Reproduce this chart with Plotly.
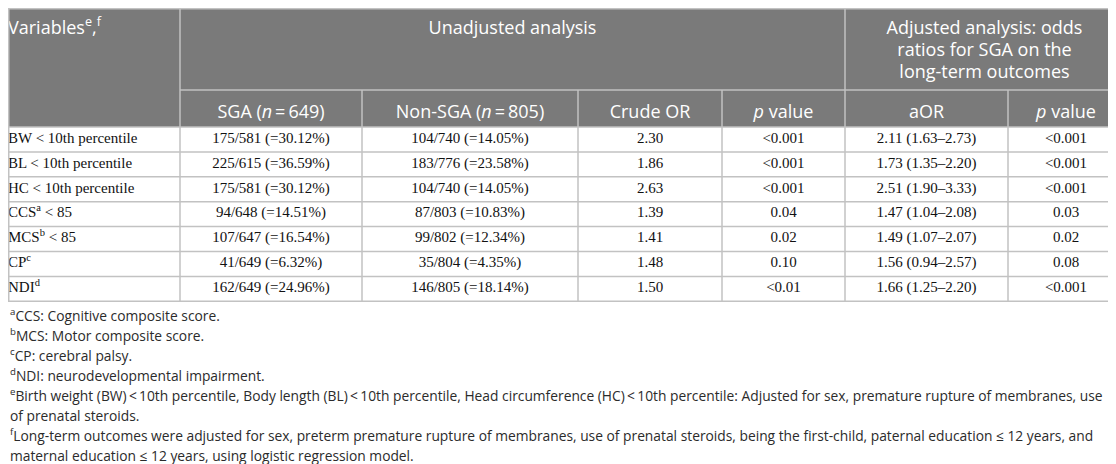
import plotly.graph_objects as go

# table body, one list per column
variables = [
    "BW &lt; 10th percentile",
    "BL &lt; 10th percentile",
    "HC &lt; 10th percentile",
    "CCS<sup>a</sup> &lt; 85",
    "MCS<sup>b</sup> &lt; 85",
    "CP<sup>c</sup>",
    "NDI<sup>d</sup>",
]
sga = ["175/581 (=30.12%)", "225/615 (=36.59%)", "175/581 (=30.12%)", "94/648 (=14.51%)",
       "107/647 (=16.54%)", "41/649 (=6.32%)", "162/649 (=24.96%)"]
non_sga = ["104/740 (=14.05%)", "183/776 (=23.58%)", "104/740 (=14.05%)", "87/803 (=10.83%)",
           "99/802 (=12.34%)", "35/804 (=4.35%)", "146/805 (=18.14%)"]
crude_or = ["2.30", "1.86", "2.63", "1.39", "1.41", "1.48", "1.50"]
crude_p = ["&lt;0.001", "&lt;0.001", "&lt;0.001", "0.04", "0.02", "0.10", "&lt;0.01"]
adj_or = ["2.11 (1.63–2.73)", "1.73 (1.35–2.20)", "2.51 (1.90–3.33)", "1.47 (1.04–2.08)",
          "1.49 (1.07–2.07)", "1.56 (0.94–2.57)", "1.66 (1.25–2.20)"]
adj_p = ["&lt;0.001", "&lt;0.001", "&lt;0.001", "0.03", "0.02", "0.08", "&lt;0.001"]

var_header = "Variables<sup>e</sup>,<sup>f</sup>"
unadj_header = "Unadjusted analysis"
adj_header = ["Adjusted analysis: odds", "ratios for SGA on the", "long-term outcomes"]
sub_headers = ["SGA (<i>n</i>\u2009=\u2009649)", "Non-SGA (<i>n</i>\u2009=\u2009805)", "Crude OR",
               "<i>p</i> value", "aOR", "<i>p</i> value"]

footnotes = [
    "<sup>a</sup>CCS: Cognitive composite score.",
    "<sup>b</sup>MCS: Motor composite score.",
    "<sup>c</sup>CP: cerebral palsy.",
    "<sup>d</sup>NDI: neurodevelopmental impairment.",
    "<sup>e</sup>Birth weight (BW)\u2009&lt;\u200910th percentile, Body length (BL)\u2009&lt;\u200910th percentile, "
    "Head circumference (HC)\u2009&lt;\u200910th percentile: Adjusted for sex, premature rupture of membranes, use",
    "of prenatal steroids.",
    "<sup>f</sup>Long-term outcomes were adjusted for sex, preterm premature rupture of membranes, "
    "use of prenatal steroids, being the first-child, paternal education ≤ 12 years, and",
    "maternal education ≤ 12 years, using logistic regression model.",
]

# layout of the grid (pixels, y grows downwards)
W, H = 1116, 464
HEAD_GRAY = "#7a7a7a"
GRID = "#c2c2c2"
col_widths = [172, 182, 216, 144, 123, 163, 116]
edges = [0]
for w in col_widths:
    edges.append(edges[-1] + w)
HEAD1_BOTTOM = 82
HEAD2_BOTTOM = 119
ROW_H = 24.9
n_rows = len(variables)
table_bottom = HEAD2_BOTTOM + ROW_H * n_rows
row_mid = [HEAD2_BOTTOM + ROW_H * (i + 0.5) - 0.5 for i in range(n_rows)]
centers = [(edges[j] + edges[j + 1]) / 2 for j in range(len(col_widths))]

head_font = dict(family="Open Sans", size=18, color="white")
body_font = dict(family="Liberation Serif", size=15, color="#111111")

fig = go.Figure()

# body columns (first column left aligned, text offset comes from the textposition)
columns = [variables, sga, non_sga, crude_or, crude_p, adj_or, adj_p]
for j, col in enumerate(columns):
    fig.add_trace(go.Scatter(
        x=[edges[0]] * n_rows if j == 0 else [centers[j]] * n_rows,
        y=row_mid,
        text=col,
        mode="text",
        textposition="middle right" if j == 0 else "middle center",
        textfont=body_font,
        cliponaxis=False,
        hoverinfo="skip",
        showlegend=False,
    ))

# sub header row
fig.add_trace(go.Scatter(
    x=centers[1:],
    y=[105] * len(sub_headers),
    text=sub_headers,
    mode="text",
    textposition="middle center",
    textfont=head_font,
    hoverinfo="skip",
    showlegend=False,
))

# top header row
fig.add_trace(go.Scatter(
    x=[edges[0], (edges[1] + edges[5]) / 2] + [(edges[5] + edges[7]) / 2] * len(adj_header),
    y=[21, 21] + [21 + 22 * k for k in range(len(adj_header))],
    text=[var_header, unadj_header] + adj_header,
    mode="text",
    textposition=["middle right"] + ["middle center"] * (1 + len(adj_header)),
    textfont=head_font,
    cliponaxis=False,
    hoverinfo="skip",
    showlegend=False,
))

# header background
fig.add_shape(type="rect", x0=edges[0], x1=edges[-1], y0=0, y1=HEAD2_BOTTOM,
              fillcolor=HEAD_GRAY, line_width=0, layer="below")

# grid lines
grid = dict(color=GRID, width=1.5)
fig.add_shape(type="rect", x0=edges[0] + 0.75, x1=edges[-1] - 0.75, y0=0.75, y1=table_bottom,
              line=grid)
for k in range(n_rows):
    y = HEAD2_BOTTOM + ROW_H * k
    fig.add_shape(type="line", x0=edges[0], x1=edges[-1], y0=y, y1=y, line=grid)
fig.add_shape(type="line", x0=edges[1], x1=edges[-1], y0=HEAD1_BOTTOM, y1=HEAD1_BOTTOM, line=grid)
for j in (1, 5):
    fig.add_shape(type="line", x0=edges[j], x1=edges[j], y0=0, y1=table_bottom, line=grid)
for j in (2, 3, 4, 6):
    fig.add_shape(type="line", x0=edges[j], x1=edges[j], y0=HEAD1_BOTTOM, y1=table_bottom, line=grid)

# footnotes
for i, note in enumerate(footnotes):
    fig.add_annotation(
        text=note, xref="x", yref="y",
        x=0, y=307 + 20 * i,
        xanchor="left", yanchor="middle", showarrow=False,
        font=dict(family="Open Sans", size=13.8, color="#2b2b2b"),
    )

fig.update_xaxes(range=[0, W], visible=False, fixedrange=True)
fig.update_yaxes(range=[H, 0], visible=False, fixedrange=True)
fig.update_layout(
    width=W, height=H,
    margin=dict(l=0, r=0, t=0, b=0),
    paper_bgcolor="white",
    plot_bgcolor="white",
)

fig.write_html("out.html")
